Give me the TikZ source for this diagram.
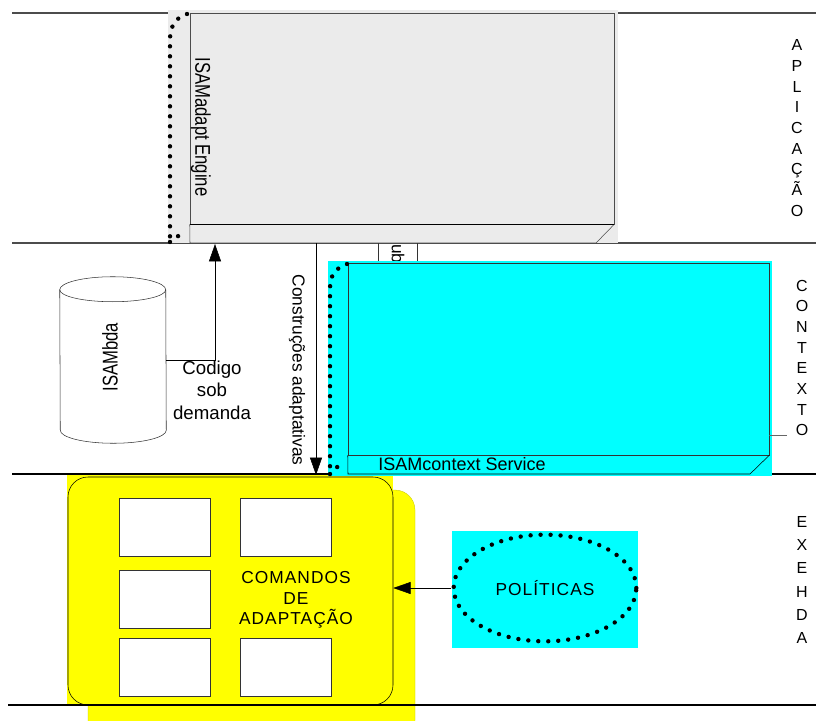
\documentclass[tikz,border=0pt]{standalone}
\usepackage{fontspec}
\setmainfont{Liberation Sans}
\newfontfamily\spacedfont[LetterSpace=6]{Liberation Sans}
\newfontfamily\narrowfont[FakeStretch=0.78]{Liberation Sans}
\usetikzlibrary{arrows.meta,positioning,shapes.geometric}
\definecolor{aqua}{RGB}{0,255,255}
\definecolor{lemon}{RGB}{255,255,0}

\begin{document}
\begin{tikzpicture}[x=0.75pt,y=-0.75pt,
face/.style={draw=black!70,inner sep=0pt},
cmdbox/.style={draw=black!80,fill=white,minimum width=68.25pt,minimum height=43.5pt,inner sep=0pt},
layerline/.style={line width=0.8pt},
dotline/.style={line width=3.3pt,dash pattern=on 0pt off 7.5pt,line cap=round},
arrow/.style={-{Triangle[length=13pt,width=9pt]}},
vlabel/.style={font=\fontsize{12}{15.5}\selectfont,align=center,inner sep=0pt},
txt/.style={font=\fontsize{13}{16}\selectfont,inner sep=0pt}
]
\useasboundingbox (0,0) rectangle (816,720);

\fill[lemon,draw=lemon!75!black,very thin,rounded corners=15pt] (88,490) rectangle (415,740);
\fill[lemon] (67,475) rectangle (393,705);

\draw[layerline,black!70] (12,13) -- (816,13);
\draw[layerline,black!70] (12,243) -- (816,243);
\draw[layerline] (12,474) -- (816,474);
\draw[layerline] (8,705) -- (816,705);

\fill[black!8] (168,10) rectangle (618,243);
\node[face,minimum width=318pt,minimum height=158.25pt] (engine) at (402,118.5) {};
\draw[black!70] (engine.south west) -- (190,243) -- (596,243) -- (engine.south east);
\draw (engine.south west) -- (engine.south east);
\draw[dotline] (187,14) .. controls (174,18) and (170,28) .. (170,40) -- (170,242);
\draw[dotline] (170,242) .. controls (176,238) .. (184,231);
\node[font=\narrowfont\fontsize{16}{18}\selectfont,inner sep=0pt,rotate=-90] (enginelbl) at (201,127) {ISAMadapt Engine};

\draw[black!80] (378,243) -- (378,262);
\draw[black!80] (417,243) -- (417,262);
\node[txt,rotate=-90] (publbl) at (398,254) {ub};

\fill[aqua] (328,261) rectangle (772,476);
\node[face,draw=black!80,minimum width=315.75pt,minimum height=144pt] (context) at (558.5,359) {};
\draw (context.south west) -- (348,474) -- (750,474) -- (context.south east);
\draw[dotline] (347,264) .. controls (335,268) and (330,276) .. (330,288) -- (330,474);
\draw[dotline] (330,474) .. controls (336,468) .. (344,461);
\node[txt,font=\fontsize{13.5}{16}\selectfont] (contextlbl) at (462,464) {ISAMcontext Service};
\draw[black!60] (769,435) -- (787,435);

\node[minimum width=79.5pt,minimum height=105pt,inner sep=0pt] (bda) at (113,360) {};
\draw[black!80,fill=white] (bda.north west) arc[start angle=180,end angle=360,x radius=53,y radius=13]
  -- (bda.south east) arc[start angle=0,end angle=180,x radius=53,y radius=13] -- cycle;
\draw[black!80] (bda.north west) arc[start angle=180,end angle=0,x radius=53,y radius=12];
\node[font=\narrowfont\fontsize{16}{18}\selectfont,inner sep=0pt,rotate=90] (bdalbl) at (110,357) {ISAMbda};

\coordinate (cod) at (215,244);
\draw[arrow] (bda.east) -| (cod);
\node[txt,font=\fontsize{14}{17}\selectfont,align=center] (codlbl) at (212,390) {Codigo\\sob\\demanda};

\coordinate (cstart) at (316,243);
\coordinate (cend) at (316,475);
\draw[arrow] (cstart) -- (cend);
\node[txt,rotate=-90] (cstlbl) at (297,370) {Construções adaptativas};

\node[draw,rounded corners=15pt,minimum width=243.75pt,minimum height=171pt,inner sep=0pt] (cmds) at (230.5,591) {};
\node[cmdbox] (cmd1) at (164.5,527) {};
\node[cmdbox,right=22.5pt of cmd1] (cmd2) {};
\node[cmdbox,below=10.5pt of cmd1] (cmd3) {};
\node[cmdbox,below=6.75pt of cmd3] (cmd4) {};
\node[cmdbox,right=22.5pt of cmd4] (cmd5) {};
\node[txt,font=\spacedfont\fontsize{13}{15.4}\selectfont,align=center] (cmdlbl) at (296,600) {COMANDOS\\DE\\ADAPTAÇÃO};

\fill[aqua] (452,531) rectangle (638,648);
\node[ellipse,draw,dotline,minimum width=137pt,minimum height=80pt,inner sep=0pt,font=\spacedfont\fontsize{13}{16}\selectfont] (pol) at (545,588) {POLÍTICAS};
\draw[arrow] (pol.west) -- (cmds.east |- pol.west);

\node[vlabel] (app) at (797,128) {A\\P\\L\\I\\C\\A\\Ç\\Ã\\O};
\node[vlabel] (ctx) at (802,358) {C\\O\\N\\T\\E\\X\\T\\O};
\node[vlabel,font=\fontsize{12}{17.5}\selectfont] (exehda) at (802,580) {E\\X\\E\\H\\D\\A};
\end{tikzpicture}
\end{document}
